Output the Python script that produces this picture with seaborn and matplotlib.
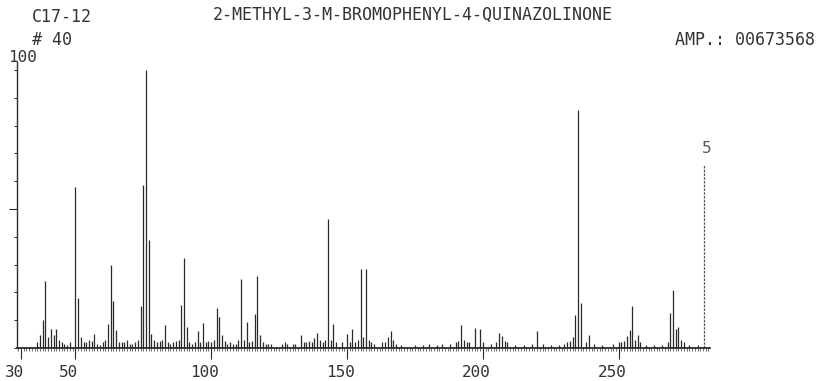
import numpy as np
import pandas as pd
import matplotlib
matplotlib.use("Agg")
import matplotlib.pyplot as plt
import matplotlib.transforms as mtransforms
import seaborn as sns

# ---- data (m/z, relative intensity %) ----
main_mz = [36, 37, 38, 39, 40, 41, 42, 43, 44, 50, 51, 52, 53, 55, 57, 61, 62, 63, 64, 65,
           69, 73, 74, 75, 76, 77, 78, 79, 83, 89, 90, 91, 95, 97, 102, 103, 104,
           111, 113, 116, 117, 118, 133, 138, 139, 143, 145, 150, 152, 155, 157, 165, 166,
           192, 197, 199, 206, 207, 220, 233, 234, 235, 236, 239, 250, 253, 254, 255, 257,
           269, 270, 271, 272]
main_int = [2, 4.5, 10, 24, 4, 7, 4.5, 7, 3, 58, 18, 4, 2, 3, 5, 3, 8.6, 30, 17, 6.5,
            3, 3, 15, 58.5, 100, 38.7, 5, 3, 8.3, 15.5, 32.3, 7.5, 6, 9, 14.3, 11, 4.5,
            24.7, 9.5, 12.2, 26, 4.8, 4.8, 3.5, 5.3, 46.4, 8.6, 5.2, 6.7, 28.3, 28.3, 4, 6.2,
            8.3, 7.1, 6.7, 5.3, 4.3, 6.2, 4, 11.9, 85.6, 16.1, 4.7, 2, 4.3, 6.5, 15.1, 4.7,
            12.5, 20.9, 7, 7.7]

minor_mz = [45, 46, 47, 48, 54, 56, 58, 59, 60, 66, 67, 68, 70, 71, 72, 80, 81, 82, 84, 85,
            86, 87, 88, 92, 93, 94, 96, 98, 99, 100, 101, 105, 106, 107, 108, 109, 110, 112,
            114, 115, 119, 120, 121, 122, 126, 127, 128, 130, 131, 134, 135, 136, 137, 140,
            141, 142, 144, 146, 148, 151, 153, 154, 156, 158, 159, 160, 163, 164, 167, 168,
            170, 175, 178, 180, 183, 185, 188, 190, 191, 193, 194, 195, 200, 203, 205, 208,
            209, 212, 215, 218, 222, 225, 228, 230, 231, 232, 238, 241, 244, 248, 251, 252,
            256, 258, 260, 263, 266, 268, 273, 274, 276, 279]
minor_int = [2, 1.5, 1, 2, 2, 2.5, 1.5, 1, 2, 2, 2, 2, 1.5, 1.5, 2, 2, 2.5, 3, 2, 1.5,
             2, 2.5, 3, 2, 1.5, 2, 2, 2, 2.5, 2, 3, 2.5, 1.5, 2, 1.5, 1.5, 3, 3,
             2, 2.5, 2, 1.5, 1.5, 1.5, 1.5, 2, 1.5, 1.5, 1.5, 2, 2, 2.5, 2, 3,
             2, 3, 3, 2, 2, 2, 2, 3, 4, 3, 2, 1.5, 2, 2, 3, 1.5,
             1, 1, 1, 1.5, 1, 1.5, 1.5, 2, 2.5, 3, 2, 2, 2, 1.5, 2, 2.5,
             2, 1, 1, 1.5, 1.5, 1, 1, 1.5, 2, 2.5, 2, 1.5, 1, 1.5, 2, 2.5,
             3, 2, 1, 1, 1, 2, 3, 2, 1, 1]

marker_mz = [281.4]
marker_int = [65.8]

tick_vals = [30, 50, 100, 150, 200, 250]
tick_labels = ["30", "50", "100", "150", "200", "250"]

title = "2-METHYL-3-M-BROMOPHENYL-4-QUINAZOLINONE"
code = "C17-12"
scan = "# 40"
amp = "AMP.: 00673568"

df = pd.DataFrame({"mz": main_mz + minor_mz, "int": main_int + minor_int})

# ---- figure ----
sns.set_theme(style="white")
plt.rcParams["font.family"] = ["DejaVu Sans Mono", "DejaVu Sans"]
W, H = 824, 381
fig = plt.figure(figsize=(W / 100, H / 100), dpi=100)
fig.patch.set_facecolor("white")
L, R, B, T = 17, 710, 348, 62
ax = fig.add_axes([L / W, 1 - B / H, (R - L) / W, (B - T) / H])
ax.set_facecolor("white")

ink = "#2a2a2a"
ax.vlines(df["mz"], 0, df["int"], color=ink, linewidth=0.9)
ax.vlines(marker_mz, 0, marker_int, color="#555555", linewidth=0.9, linestyles=(0, (2, 1)))

ax.set_xlim(28.52, 283.6)
ax.set_ylim(0, 102.9)

sns.despine(ax=ax, top=True, right=True)
ax.spines["left"].set_color(ink)
ax.spines["left"].set_linewidth(1.0)
ax.spines["bottom"].set_color(ink)
ax.spines["bottom"].set_linewidth(1.3)

ax.set_xticks(tick_vals)
ax.set_xticklabels(tick_labels)
ax.set_xticks(np.arange(29, 284, 1), minor=True)
ax.tick_params(axis="x", which="major", direction="out", length=8, width=0.8,
               color=ink, labelsize=11.5, labelcolor="#333333", pad=4, bottom=True)
ax.tick_params(axis="x", which="minor", direction="out", length=2.5, width=0.6,
               color="#555555", bottom=True)
ax.set_yticks([0, 10, 20, 30, 40, 60, 70, 80, 90, 100])
ax.set_yticklabels([])
ax.set_yticks([50], minor=True)
ax.tick_params(axis="y", which="major", direction="out", length=2.5, width=0.7,
               color=ink, left=True)
ax.tick_params(axis="y", which="minor", direction="out", length=6, width=0.8,
               color=ink, left=True)

shift = mtransforms.ScaledTranslation(-6.5 / 100, 0, fig.dpi_scale_trans)
for lab in ax.get_xticklabels():
    lab.set_transform(lab.get_transform() + shift)

ax.grid(False)

tc = "#333333"
fig.text(32 / W, 1 - 17 / H, code, fontsize=12, color=tc, ha="left", va="center")
fig.text(32 / W, 1 - 40 / H, scan, fontsize=12, color=tc, ha="left", va="center")
fig.text(8 / W, 1 - 57 / H, "100", fontsize=11.5, color=tc, ha="left", va="center")
fig.text(213 / W, 1 - 15 / H, title, fontsize=12, color=tc, ha="left", va="center")
fig.text(815 / W, 1 - 40 / H, amp, fontsize=12, color=tc, ha="right", va="center")
fig.text(707 / W, 1 - 148 / H, "5", fontsize=11.5, color="#555555", ha="center", va="center")

fig.savefig("out.png", dpi=100, facecolor="white")
